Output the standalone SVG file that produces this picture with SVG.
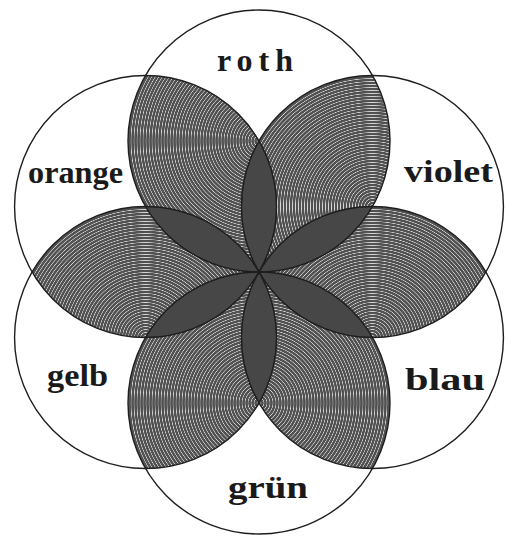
<svg xmlns="http://www.w3.org/2000/svg" width="505" height="538" viewBox="0 0 505 538">
  <style>
    .ring { fill: none; stroke: #1e1e1e; stroke-width: 1.4; }
    .lens { fill: #474747; stroke: #333; stroke-width: 0.6; }
    .lbl { font-family: "Liberation Serif", "DejaVu Serif", serif; font-weight: bold; font-size: 32px; fill: #1a1a1a; }
  </style>
  <defs>
    <radialGradient id="hR" gradientUnits="userSpaceOnUse" cx="259" cy="141" r="3" spreadMethod="repeat">
      <stop offset="0" stop-color="#515151"/><stop offset="0.45" stop-color="#515151"/><stop offset="0.66" stop-color="#dadada"/><stop offset="0.86" stop-color="#515151"/><stop offset="1" stop-color="#515151"/>
    </radialGradient>
    <radialGradient id="hV" href="#hR" cx="372.45" cy="206.5" fx="372.45" fy="206.5"/>
    <radialGradient id="hB" href="#hR" cx="372.45" cy="337.5" fx="372.45" fy="337.5"/>
    <radialGradient id="hG" href="#hR" cx="259" cy="403" fx="259" fy="403"/>
    <radialGradient id="hL" href="#hR" cx="145.55" cy="337.5" fx="145.55" fy="337.5"/>
  </defs>
  <rect width="505" height="538" fill="#ffffff"/>

  <g id="petals">
    <path d="M259,272 A131,131 0 0 1 145.55,75.5 A131,131 0 0 1 259,272 Z" fill="url(#hR)"/>
    <path d="M259,272 A131,131 0 0 1 372.45,75.5 A131,131 0 0 1 259,272 Z" fill="url(#hV)"/>
    <path d="M259,272 A131,131 0 0 1 485.9,272 A131,131 0 0 1 259,272 Z" fill="url(#hB)"/>
    <path d="M259,272 A131,131 0 0 1 372.45,468.5 A131,131 0 0 1 259,272 Z" fill="url(#hG)"/>
    <path d="M259,272 A131,131 0 0 1 145.55,468.5 A131,131 0 0 1 259,272 Z" fill="url(#hG)"/>
    <path d="M259,272 A131,131 0 0 1 32.1,272 A131,131 0 0 1 259,272 Z" fill="url(#hL)"/>
  </g>

  <g id="lenses">
    <path class="lens" d="M259,272 A131,131 0 0 1 259,141 A131,131 0 0 1 259,272 Z"/>
    <path class="lens" d="M259,272 A131,131 0 0 1 372.45,206.5 A131,131 0 0 1 259,272 Z"/>
    <path class="lens" d="M259,272 A131,131 0 0 1 372.45,337.5 A131,131 0 0 1 259,272 Z"/>
    <path class="lens" d="M259,272 A131,131 0 0 1 259,403 A131,131 0 0 1 259,272 Z"/>
    <path class="lens" d="M259,272 A131,131 0 0 1 145.55,337.5 A131,131 0 0 1 259,272 Z"/>
    <path class="lens" d="M259,272 A131,131 0 0 1 145.55,206.5 A131,131 0 0 1 259,272 Z"/>
  </g>

  <g id="roth">
    <circle class="ring" cx="259" cy="141" r="131"/>
    <text class="lbl" x="217" y="71" textLength="76" lengthAdjust="spacing">roth</text>
  </g>
  <g id="violet">
    <circle class="ring" cx="372.45" cy="206.5" r="131"/>
    <text class="lbl" x="404" y="182" textLength="89" lengthAdjust="spacingAndGlyphs">violet</text>
  </g>
  <g id="blau">
    <circle class="ring" cx="372.45" cy="337.5" r="131"/>
    <text class="lbl" x="405" y="390" textLength="80" lengthAdjust="spacingAndGlyphs">blau</text>
  </g>
  <g id="gruen">
    <circle class="ring" cx="259" cy="403" r="131"/>
    <text class="lbl" x="228" y="498" textLength="80" lengthAdjust="spacingAndGlyphs">grün</text>
  </g>
  <g id="gelb">
    <circle class="ring" cx="145.55" cy="337.5" r="131"/>
    <text class="lbl" x="47" y="386" textLength="61" lengthAdjust="spacingAndGlyphs">gelb</text>
  </g>
  <g id="orange">
    <circle class="ring" cx="145.55" cy="206.5" r="131"/>
    <text class="lbl" x="28" y="183" textLength="95" lengthAdjust="spacingAndGlyphs">orange</text>
  </g>
</svg>
